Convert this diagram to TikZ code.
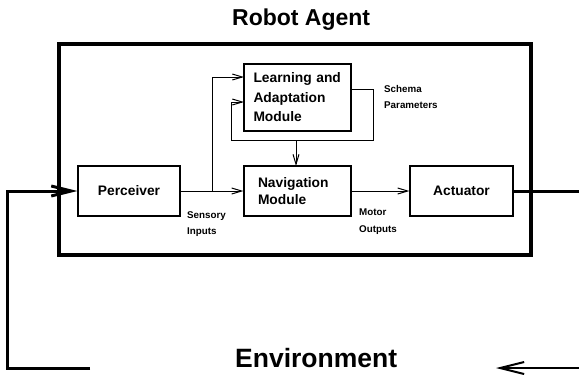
\documentclass[tikz,border=0pt]{standalone}
\usepackage{fontspec}
\setmainfont{Liberation Sans}
\usetikzlibrary{arrows.meta}
\newcommand\boxfont{\bfseries\fontsize{13.8}{17}\selectfont}
\newcommand\learnfont{\bfseries\fontsize{13.8}{19.5}\selectfont}
\newcommand\smallfont{\bfseries\fontsize{9.8}{16.5}\selectfont}
\tikzset{
  module/.style={draw, line width=1.2pt, minimum height=50pt, inner ysep=0pt, font=\boxfont},
  sidelabel/.style={anchor=north west, inner sep=0pt, align=left, font=\smallfont},
  flow/.style={line width=1pt, -{Straight Barb[length=10pt,width=6pt]}},
  envline/.style={line width=3pt},
  envarrow/.style={line width=3pt, -{Straight Barb[length=20pt,width=10pt]}},
  envreturn/.style={line width=2pt, -{Straight Barb[length=24pt,width=12pt]}},
}
\begin{document}
\begin{tikzpicture}[x=1pt,y=-1pt]
\useasboundingbox (0,0) rectangle (579,376);

% titles
\node[anchor=base west, inner sep=0pt, font=\bfseries\fontsize{23}{26}\selectfont] (agent) at (232,25) {Robot Agent};
\node[anchor=base west, inner sep=0pt, font=\bfseries\fontsize{26.5}{30}\selectfont] (env) at (235,367) {Environment};

% agent boundary
\draw[line width=4pt] (59,44) rectangle (531,254.5);

% modules
\node[module, minimum width=102pt] (perc) at (129,191) {Perceiver};
\node[module, text width=79pt, inner xsep=14pt, align=left] (nav) at (297.5,191) {Navigation\\Module};
\node[module, minimum width=103pt] (act) at (461.5,191) {Actuator};
\node[module, minimum height=67pt, text width=88pt, inner xsep=9.5pt, align=left, font=\learnfont] (learn) at (297.5,97.5) {Learning and\\Adaptation\\Module};

% labels on the signal paths
\node[sidelabel] (sens) at (187,211) {Sensory\\Inputs};
\node[sidelabel] (motor) at (359,209) {Motor\\Outputs};
\node[sidelabel] (schema) at (384,85) {Schema\\Parameters};

% internal signal paths
\coordinate (split) at (212,191);
\coordinate (upin) at (244,77);
\coordinate (schout) at (351,89);
\coordinate (loopbr) at (373,140);
\coordinate (loopbl) at (231,140);
\coordinate (fbin) at (244,102);
\coordinate (drop) at (296,140);
\coordinate (navtop) at (296,166);

\draw[flow] (perc.east) -- (nav.west);
\draw[flow] (split) |- (upin);
\draw[flow] (schout) -| (loopbr) -- (loopbl) |- (fbin);
\draw[flow] (drop) -- (navtop);
\draw[flow] (nav.east) -- (act.west);

% environment loop
\coordinate (outR) at (579,191);
\coordinate (envR) at (579,368);
\coordinate (envRend) at (496,368);
\coordinate (envL) at (90,368);
\coordinate (cornerBL) at (7,368);
\coordinate (cornerTL) at (7,191);

\draw[envline] (act.east) -- (outR);
\draw[envreturn] (envR) -- (envRend);
\draw[envarrow] (envL) -- (cornerBL) -- (cornerTL) -- (perc.west);
\end{tikzpicture}
\end{document}
